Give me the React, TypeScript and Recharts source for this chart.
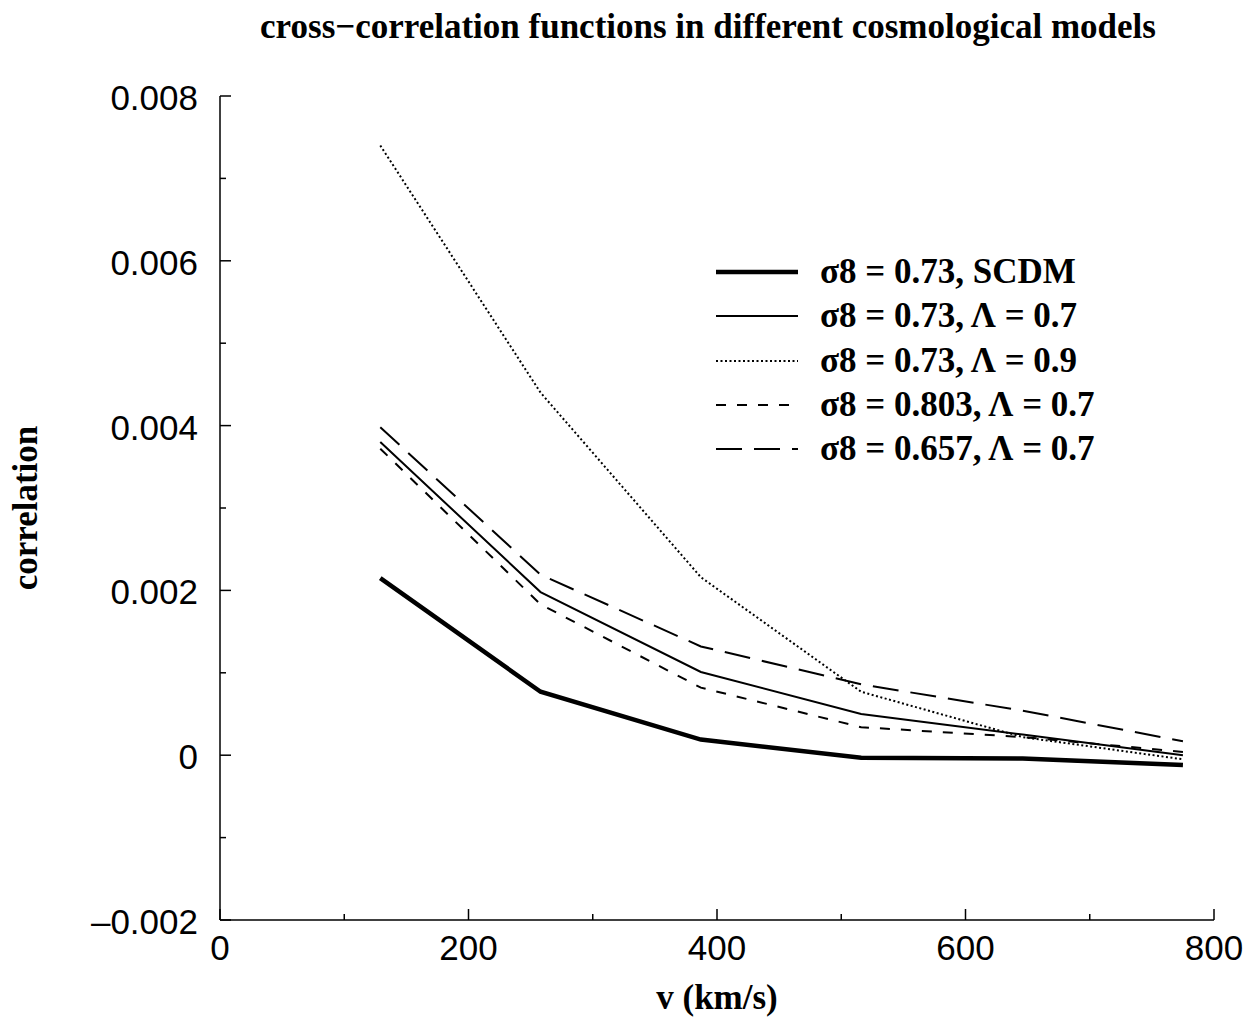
import React from "react";
import { LineChart, Line, XAxis, YAxis, Legend, Label } from "recharts";

// velocity bins (km/s)
const velocity = [129, 258, 387, 516, 646, 775];

// cross-correlation per model
const scdm073 = [0.00215, 0.00077, 0.00019, -0.00003, -0.00004, -0.00012];
const lam07 = [0.0038, 0.00198, 0.00101, 0.0005, 0.00025, 0.0];
const lam09 = [0.0074, 0.0044, 0.00216, 0.00077, 0.00022, -0.00005];
const s803lam07 = [0.00372, 0.00183, 0.00082, 0.00034, 0.00022, 0.00004];
const s657lam07 = [0.00398, 0.00219, 0.00132, 0.00086, 0.00054, 0.00017];

const xTicks = [0, 100, 200, 300, 400, 500, 600, 700, 800];
const yTicks = [-0.002, -0.001, 0, 0.001, 0.002, 0.003, 0.004, 0.005, 0.006, 0.007, 0.008];

const series = [
  { key: "scdm", name: "σ8 = 0.73, SCDM", width: 4.5, dash: undefined },
  { key: "lam07", name: "σ8 = 0.73, Λ = 0.7", width: 2, dash: undefined },
  { key: "lam09", name: "σ8 = 0.73, Λ = 0.9", width: 2, dash: "2 2.5" },
  { key: "s803", name: "σ8 = 0.803, Λ = 0.7", width: 2, dash: "10 11" },
  { key: "s657", name: "σ8 = 0.657, Λ = 0.7", width: 2, dash: "26 12" },
];

const data = velocity.map((v, i) => ({
  v,
  scdm: scdm073[i],
  lam07: lam07[i],
  lam09: lam09[i],
  s803: s803lam07[i],
  s657: s657lam07[i],
}));

const SANS = "'Liberation Sans', Arial, sans-serif";
const SERIF = "'Liberation Serif', 'Times New Roman', serif";

const isMajorX = (v: number) => v % 200 === 0;
const isMajorY = (v: number) => Math.round(v * 1000) % 2 === 0;

const fmtY = (v: number) => {
  const k = Math.round(v * 1000);
  if (k === 0) return "0";
  return (k < 0 ? "–" : "") + (Math.abs(k) / 1000).toFixed(3);
};

function XTick(props: any) {
  const { x, y, payload, top } = props;
  const major = isMajorX(payload.value);
  const len = major ? 11 : 6;
  return (
    <g>
      <line x1={x} x2={x} y1={y} y2={top ? y + len : y - len} stroke="#000" strokeWidth={1.5} />
      {!top && major && (
        <text x={x} y={y + 40} textAnchor="middle" fontFamily={SANS} fontSize={35} fill="#000">
          {payload.value}
        </text>
      )}
    </g>
  );
}

function YTick(props: any) {
  const { x, y, payload, right } = props;
  const major = isMajorY(payload.value);
  const len = major ? 11 : 6;
  return (
    <g>
      <line x1={x} x2={right ? x - len : x + len} y1={y} y2={y} stroke="#000" strokeWidth={1.5} />
      {!right && major && (
        <text x={x - 22} y={y + 14} textAnchor="end" fontFamily={SANS} fontSize={35} fill="#000">
          {fmtY(payload.value)}
        </text>
      )}
    </g>
  );
}

function LegendBox() {
  return (
    <div style={{ fontFamily: SERIF, fontWeight: "bold", fontSize: 35 }}>
      {series.map((s) => (
        <div key={s.key} style={{ display: "flex", alignItems: "center", height: 44.3 }}>
          <svg width={82} height={20} style={{ marginRight: 22 }}>
            <line x1={0} x2={82} y1={10} y2={10} stroke="#000" strokeWidth={s.width} strokeDasharray={s.dash} />
          </svg>
          <span style={{ whiteSpace: "nowrap" }}>{s.name}</span>
        </div>
      ))}
    </div>
  );
}

export default function App() {
  return (
    <div style={{ position: "relative", width: 1258, height: 1020, background: "#fff" }}>
      <style>{"body{margin:0}"}</style>
      <div
        style={{
          position: "absolute",
          top: 0,
          left: 0,
          width: 1416,
          textAlign: "center",
          fontFamily: SERIF,
          fontWeight: "bold",
          fontSize: 35,
          lineHeight: "40px",
          paddingTop: 7,
        }}
      >
        cross−correlation functions in different cosmological models
      </div>
      <LineChart width={1258} height={1020} data={data} margin={{ top: 96, right: 44, bottom: 0, left: 0 }}>
        <XAxis
          dataKey="v"
          type="number"
          domain={[0, 800]}
          ticks={xTicks}
          interval={0}
          height={100}
          tickSize={0}
          tickMargin={0}
          tickLine={false}
          axisLine={{ stroke: "#000", strokeWidth: 1.5 }}
          tick={(p: any) => <XTick {...p} />}
        >
          <Label
            content={(p: any) => {
              const vb = p.viewBox;
              return (
                <text
                  x={vb.x + vb.width / 2}
                  y={vb.y + 89}
                  textAnchor="middle"
                  fontFamily={SERIF}
                  fontWeight="bold"
                  fontSize={35}
                >
                  v (km/s)
                </text>
              );
            }}
          />
        </XAxis>
        <XAxis
          xAxisId="top"
          orientation="top"
          dataKey="v"
          type="number"
          domain={[0, 800]}
          ticks={xTicks}
          interval={0}
          height={0}
          tickSize={0}
          tickMargin={0}
          tickLine={false}
          axisLine={{ stroke: "#000", strokeWidth: 1.5 }}
          tick={(p: any) => <XTick {...p} top />}
        />
        <YAxis
          type="number"
          domain={[-0.002, 0.008]}
          ticks={yTicks}
          interval={0}
          width={220}
          tickSize={0}
          tickMargin={0}
          tickLine={false}
          axisLine={{ stroke: "#000", strokeWidth: 1.5 }}
          tick={(p: any) => <YTick {...p} />}
        >
          <Label
            content={(p: any) => {
              const vb = p.viewBox;
              const cx = 25;
              const cy = vb.y + vb.height / 2;
              return (
                <text
                  x={cx}
                  y={cy}
                  transform={`rotate(-90 ${cx} ${cy})`}
                  textAnchor="middle"
                  dominantBaseline="central"
                  fontFamily={SERIF}
                  fontWeight="bold"
                  fontSize={35}
                >
                  correlation
                </text>
              );
            }}
          />
        </YAxis>
        <YAxis
          yAxisId="right"
          orientation="right"
          type="number"
          domain={[-0.002, 0.008]}
          ticks={yTicks}
          interval={0}
          width={0}
          tickSize={0}
          tickMargin={0}
          tickLine={false}
          axisLine={{ stroke: "#000", strokeWidth: 1.5 }}
          tick={(p: any) => <YTick {...p} right />}
        />
        <Legend
          layout="vertical"
          align="center"
          verticalAlign="middle"
          content={() => <LegendBox />}
          wrapperStyle={{ left: 716, top: 250, width: 480 }}
        />
        {series.map((s) => (
          <Line
            key={s.key}
            dataKey={s.key}
            name={s.name}
            type="linear"
            stroke="#000"
            strokeWidth={s.width}
            strokeDasharray={s.dash}
            dot={false}
            activeDot={false}
            isAnimationActive={false}
          />
        ))}
      </LineChart>
    </div>
  );
}
